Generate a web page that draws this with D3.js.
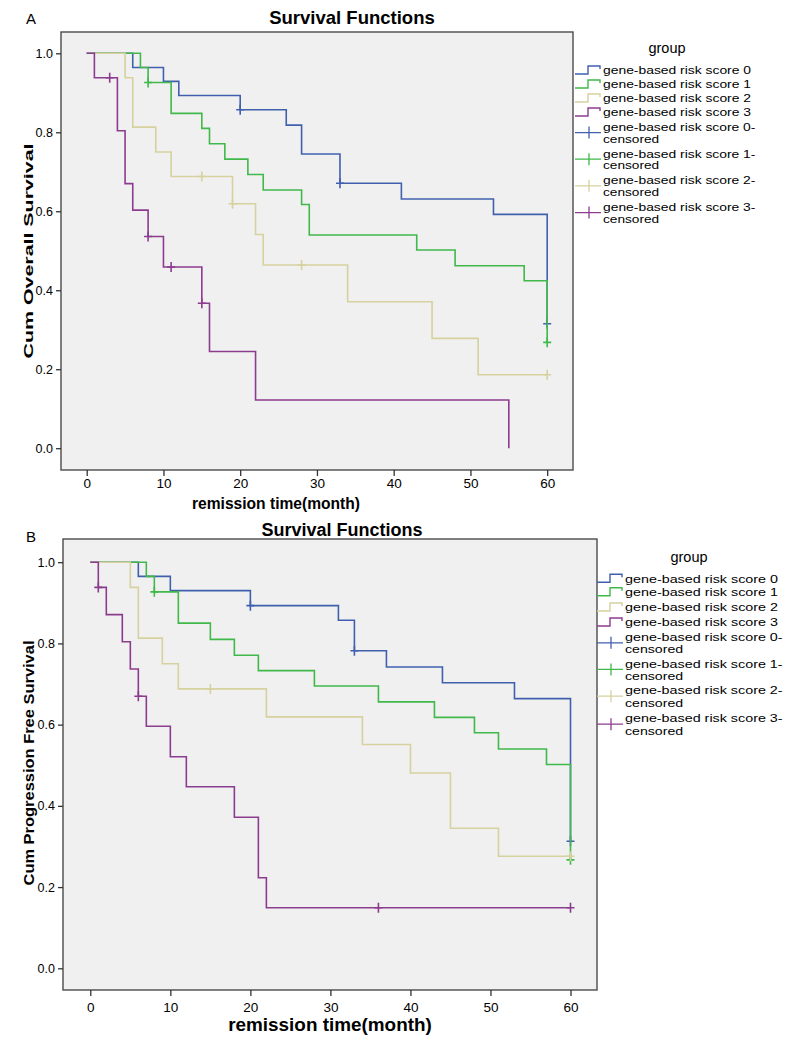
<!DOCTYPE html>
<html><head><meta charset="utf-8">
<script src="https://cdn.jsdelivr.net/npm/d3@7"></script>
<style>
body{margin:0;background:#fff}
svg{display:block}
text{font-family:"Liberation Sans",Arial,Helvetica,sans-serif;fill:#000}
</style>
</head><body>
<svg id="c" width="800" height="1043"></svg>
<script>
// ---------- shared data ----------
const groupNames = ["gene-based risk score 0","gene-based risk score 1","gene-based risk score 2","gene-based risk score 3"];
const groupColors = ["#4060ae","#40b84a","#d6d19f","#8c3c8f"];
const xTicks = [0,10,20,30,40,50,60];
const yTicks = [0.0,0.2,0.4,0.6,0.8,1.0];

// ---------- Panel A: overall survival ----------
const osTimes0 = [0,6,10,12,20,26,28,33,41,53,60];
const osSurv0  = [1.0,0.964,0.929,0.893,0.857,0.818,0.745,0.671,0.631,0.592,0.315];
const osCens0  = [20,33,60];
const osTimes1 = [0,7,8,11,15,16,18,21,23,28,29,43,48,57,60];
const osSurv1  = [1.0,0.964,0.926,0.848,0.810,0.771,0.732,0.693,0.654,0.617,0.540,0.502,0.462,0.424,0.268];
const osCens1  = [8,60];
const osTimes2 = [0,5,6,9,11,19,22,23,34,45,51];
const osSurv2  = [1.0,0.938,0.813,0.750,0.688,0.619,0.541,0.464,0.371,0.278,0.186];
const osCens2  = [15,19,28,60];
const osTimes3 = [0,1,4,5,6,8,10,15,16,22,55];
const osSurv3  = [1.0,0.938,0.804,0.670,0.603,0.536,0.459,0.367,0.245,0.122,0.0];
const osCens3  = [3,8,11,15];

// ---------- Panel B: progression free survival ----------
const pfsTimes0 = [0,6,10,20,31,33,37,44,53,60];
const pfsSurv0  = [1.0,0.965,0.930,0.893,0.857,0.782,0.742,0.703,0.664,0.313];
const pfsCens0  = [20,33,60];
const pfsTimes1 = [0,7,8,11,15,18,21,28,36,43,48,51,57,60];
const pfsSurv1  = [1.0,0.965,0.927,0.850,0.810,0.771,0.733,0.695,0.656,0.618,0.580,0.540,0.502,0.267];
const pfsCens1  = [8,60];
const pfsTimes2 = [0,5,6,9,11,22,34,40,45,51];
const pfsSurv2  = [1.0,0.938,0.813,0.750,0.688,0.619,0.551,0.481,0.345,0.276];
const pfsCens2  = [15,60];
const pfsTimes3 = [0,1,2,4,5,6,7,10,12,18,21,22];
const pfsSurv3  = [1.0,0.938,0.871,0.804,0.737,0.670,0.596,0.521,0.447,0.372,0.223,0.149];
const pfsCens3  = [1,6,36,60];

const panels = [
  { letter:"A", title:"Survival Functions", yTitle:"Cum Overall Survival", xTitle:"remission time(month)",
    groups:[[osTimes0,osSurv0,osCens0],[osTimes1,osSurv1,osCens1],[osTimes2,osSurv2,osCens2],[osTimes3,osSurv3,osCens3]],
    frame:{l:61,t:32,r:573,b:470}, xr:[86.7,547.2], yr:[448.2,53.3],
    titleX:352, titleY:24, titleSize:18.5, letterX:26, letterY:24,
    xLabY:488, xTitleY:509, xTitleSize:15.6, xTitleX:276, yTitleX:33, yTitleLen:215, yTitleC:251, yTitleSize:13.5,
    legX:575, legGroupY:48, legRows:[70,84,98,112,126.7,153.3,180,206.7], legSub:11.7, legW:148 },
  { letter:"B", title:"Survival Functions", yTitle:"Cum Progression Free Survival", xTitle:"remission time(month)",
    groups:[[pfsTimes0,pfsSurv0,pfsCens0],[pfsTimes1,pfsSurv1,pfsCens1],[pfsTimes2,pfsSurv2,pfsCens2],[pfsTimes3,pfsSurv3,pfsCens3]],
    frame:{l:63,t:539,r:597,b:990}, xr:[90.3,570.5], yr:[968.3,562.2],
    titleX:342, titleY:536, titleSize:18, letterX:26, letterY:542,
    xLabY:1012, xTitleY:1031, xTitleSize:18.9, xTitleX:330, yTitleX:34, yTitleLen:245, yTitleC:763, yTitleSize:14,
    legX:597, legGroupY:557, legRows:[578.3,591.7,607,622,636.7,663.3,690,718], legSub:12.3, legW:153 }
];

const svg = d3.select("#c");

function stepAt(times, surv, t){
  let v = surv[0];
  for(let i=0;i<times.length;i++){ if(times[i] <= t) v = surv[i]; }
  return v;
}

panels.forEach(p=>{
  const g = svg.append("g");
  const x = d3.scaleLinear().domain([0,60]).range(p.xr);
  const y = d3.scaleLinear().domain([0,1]).range(p.yr);
  const f = p.frame;

  g.append("rect").attr("x",f.l).attr("y",f.t).attr("width",f.r-f.l).attr("height",f.b-f.t)
    .attr("fill","#f0f0f0").attr("stroke","#4a4a4a").attr("stroke-width",1.4);

  const xAxis = d3.axisBottom(x).tickValues(xTicks).tickSize(6).tickPadding(4).tickFormat(d3.format("d"));
  const gx = g.append("g").attr("transform",`translate(0,${f.b})`).call(xAxis);
  gx.select(".domain").remove();
  gx.selectAll(".tick line").attr("stroke","#333").attr("stroke-width",1.3);
  gx.selectAll(".tick text").attr("font-size",13.5).attr("fill","#222").attr("y",p.xLabY-f.b-10);

  const yAxis = d3.axisLeft(y).tickValues(yTicks).tickSize(5).tickPadding(3).tickFormat(d3.format(".1f"));
  const gy = g.append("g").attr("transform",`translate(${f.l},0)`).call(yAxis);
  gy.select(".domain").remove();
  gy.selectAll(".tick line").attr("stroke","#333").attr("stroke-width",1.3);
  gy.selectAll(".tick text").attr("font-size",12.5).attr("fill","#222");

  g.append("text").attr("x",p.titleX).attr("y",p.titleY).attr("text-anchor","middle")
    .attr("font-weight","bold").attr("font-size",p.titleSize).text(p.title);
  g.append("text").attr("x",p.letterX).attr("y",p.letterY).attr("font-size",15).text(p.letter);
  g.append("text").attr("x",p.xTitleX).attr("y",p.xTitleY).attr("text-anchor","middle")
    .attr("font-weight","bold").attr("font-size",p.xTitleSize).text(p.xTitle);
  g.append("text").attr("transform",`translate(${p.yTitleX},${p.yTitleC}) rotate(-90)`)
    .attr("text-anchor","middle").attr("font-weight","bold").attr("font-size",p.yTitleSize)
    .attr("textLength",p.yTitleLen).attr("lengthAdjust","spacingAndGlyphs").text(p.yTitle);

  const plot = g.append("g");
  p.groups.forEach((grp,gi)=>{
    const [times,surv,cens] = grp;
    const tEnd = Math.max(times[times.length-1], cens.length? cens[cens.length-1] : 0);
    const pts = times.map((t,i)=>[t,surv[i]]);
    pts.push([tEnd, surv[surv.length-1]]);
    const line = d3.line().x(d=>x(d[0])).y(d=>y(d[1])).curve(d3.curveStepAfter);
    plot.append("path").attr("d",line(pts)).attr("fill","none")
      .attr("stroke",groupColors[gi]).attr("stroke-width",1.6);
    cens.forEach(t=>{
      const cx = x(t), cy = y(stepAt(times,surv,t));
      plot.append("path").attr("d",`M${cx-4},${cy}H${cx+4}M${cx},${cy-5}V${cy+5}`)
        .attr("stroke",groupColors[gi]).attr("stroke-width",1.6).attr("fill","none");
    });
  });

  const lg = g.append("g");
  lg.append("text").attr("x",p.legX+92).attr("y",p.legGroupY+5).attr("text-anchor","middle")
    .attr("font-size",14.5).text("group");
  const lx = p.legX + 28;
  const fs = 11;
  function ltext(str, yy, len){
    lg.append("text").attr("x",lx).attr("y",yy+4.2).attr("font-size",fs)
      .attr("textLength",len).attr("lengthAdjust","spacingAndGlyphs").text(str);
  }
  groupNames.forEach((nm,i)=>{
    const yy = p.legRows[i];
    lg.append("path").attr("d",`M${p.legX},${yy+4}H${p.legX+13}V${yy-4}H${p.legX+25}V${yy-1}`)
      .attr("fill","none").attr("stroke",groupColors[i]).attr("stroke-width",1.4);
    ltext(nm, yy, p.legW);
  });
  groupNames.forEach((nm,i)=>{
    const yy = p.legRows[4+i];
    const sy = yy + p.legSub/2;
    lg.append("path").attr("d",`M${p.legX},${sy}H${p.legX+26}M${p.legX+14},${sy-6}V${sy+6}`)
      .attr("fill","none").attr("stroke",groupColors[i]).attr("stroke-width",1.3);
    ltext(nm+"-", yy, p.legW*1.03);
    ltext("censored", yy+p.legSub, p.legW*0.38);
  });
});
</script>
</body></html>
